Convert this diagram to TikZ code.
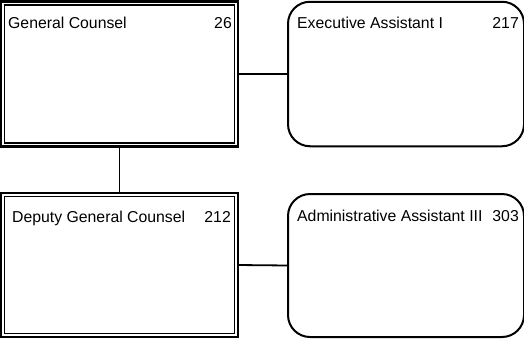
\documentclass[tikz,border=0pt]{standalone}
\usepackage{fontspec}
\setmainfont{Liberation Sans}
\begin{document}
\begin{tikzpicture}[x=1pt,y=-1pt,
  posbox/.style={draw=black,line width=2.2pt,
    minimum width=237pt,minimum height=#1,inner sep=0pt,outer sep=0pt},
  innerframe/.style={draw=black,line width=1.5pt},
  staffbox/.style={draw=black,line width=2pt,rounded corners=22pt,
    minimum width=236pt,minimum height=#1,inner sep=0pt,outer sep=0pt},
  link/.style={draw=black,line width=1.8pt},
  title/.style={anchor=base west,inner sep=0pt,font=\fontsize{15.8}{18}\selectfont},
  num/.style={anchor=base east,inner sep=0pt,font=\fontsize{15.8}{18}\selectfont}]
  \useasboundingbox (0,0) rectangle (524,338);

  % position boxes: thick outer frame with a thinner frame inside
  \node[posbox=145pt] (gc) at (119.5,74) {};
  \draw[innerframe] ([shift={(3.6,3.6)}]gc.north west) rectangle ([shift={(-3.6,-3.6)}]gc.south east);
  \node[posbox=144pt] (dgc) at (119.5,265) {};
  \draw[innerframe] ([shift={(3.6,3.6)}]dgc.north west) rectangle ([shift={(-3.6,-3.6)}]dgc.south east);

  % assistant boxes with rounded corners
  \node[staffbox=144.5pt] (ea) at (406,74) {};
  \node[staffbox=143pt] (aa) at (406,265.5) {};

  % connectors
  \draw[link] (gc.south) -- (dgc.north);
  \draw[link] (gc.east) -- (ea.west);
  \draw[link] (dgc.east) -- (aa.west);

  % titles and position numbers
  \node[title] (gct) at (8,28) {General Counsel};
  \node[num] (gcn) at (232,28) {26};
  \node[title] (dgct) at (12,222) {Deputy General Counsel};
  \node[num] (dgcn) at (231,222) {212};
  \node[title] (eat) at (297,28) {Executive Assistant I};
  \node[num] (ean) at (519,28) {217};
  \node[title] (aat) at (297,221) {Administrative Assistant III};
  \node[num] (aan) at (519,221) {303};
\end{tikzpicture}
\end{document}
